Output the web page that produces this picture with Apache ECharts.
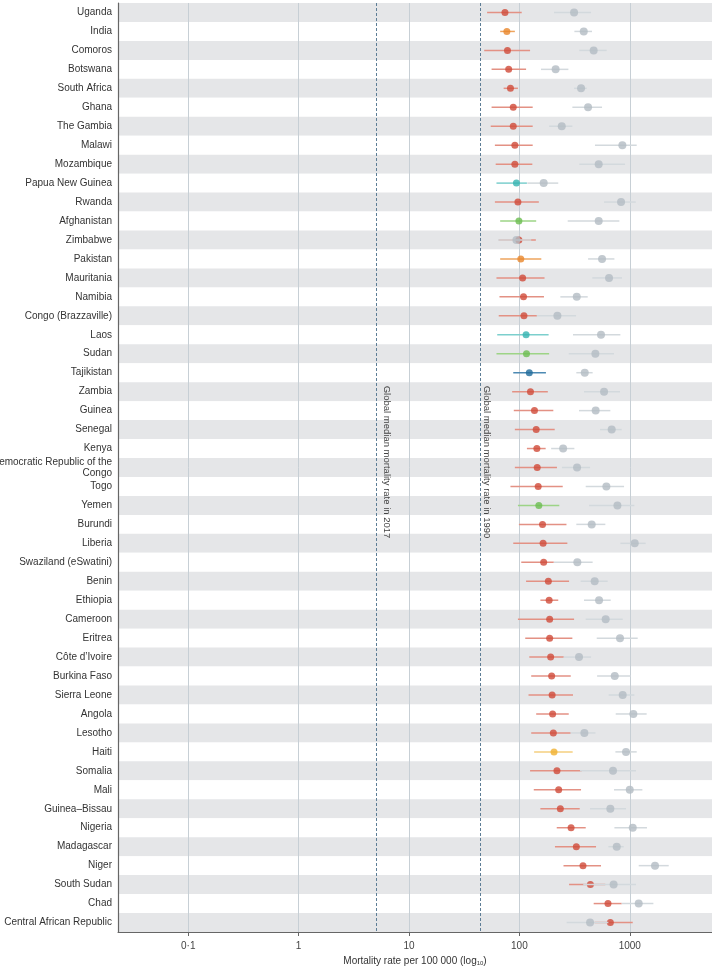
<!DOCTYPE html>
<html lang="en">
<head>
    <meta charset="UTF-8">
    <title>Mortality rate per 100 000</title>
    <script src="https://cdn.jsdelivr.net/npm/echarts@6/dist/echarts.min.js"></script>
    <style>
        html, body { margin: 0; padding: 0; background: #fff; }
        #main { width: 712px; height: 966px; }
    </style>
</head>
<body>
<div id="main"></div>
<script type="text/javascript">
    // countries, top to bottom
    var countries = ['Uganda', 'India', 'Comoros', 'Botswana', 'South Africa', 'Ghana', 'The Gambia', 'Malawi',
        'Mozambique', 'Papua New Guinea', 'Rwanda', 'Afghanistan', 'Zimbabwe', 'Pakistan', 'Mauritania', 'Namibia',
        'Congo (Brazzaville)', 'Laos', 'Sudan', 'Tajikistan', 'Zambia', 'Guinea', 'Senegal', 'Kenya',
        'Democratic Republic of the Congo', 'Togo', 'Yemen', 'Burundi', 'Liberia', 'Swaziland (eSwatini)', 'Benin',
        'Ethiopia', 'Cameroon', 'Eritrea', 'Côte d\u2019Ivoire', 'Burkina Faso', 'Sierra Leone', 'Angola', 'Lesotho',
        'Haiti', 'Somalia', 'Mali', 'Guinea\u2013Bissau', 'Nigeria', 'Madagascar', 'Niger', 'South Sudan', 'Chad',
        'Central African Republic'];

    // region of each country (colour of the 2017 mark)
    var region = ['ssa', 'sa', 'ssa', 'ssa', 'ssa', 'ssa', 'ssa', 'ssa',
        'ssa', 'sea', 'ssa', 'nme', 'ssa', 'sa', 'ssa', 'ssa',
        'ssa', 'sea', 'nme', 'cee', 'ssa', 'ssa', 'ssa', 'ssa',
        'ssa', 'ssa', 'nme', 'ssa', 'ssa', 'ssa', 'ssa',
        'ssa', 'ssa', 'ssa', 'ssa', 'ssa', 'ssa', 'ssa', 'ssa',
        'lac', 'ssa', 'ssa', 'ssa', 'ssa', 'ssa', 'ssa', 'ssa', 'ssa',
        'ssa'];

    // 2017 rate and uncertainty interval
    var rate2017 = [74, 77, 78, 80, 83, 88, 88, 91, 91, 94, 97, 99, 99, 103, 107, 109, 110, 115, 116, 123, 126, 137,
        142, 144, 145, 148, 150, 162, 164, 166, 183, 186, 188, 188, 192, 196, 198, 200, 203, 206, 219, 227, 235, 294,
        328, 377, 440, 635, 667];
    var low2017 = [51, 67, 48, 56, 72, 56, 55, 60, 61, 62, 60, 67, 65, 67, 62, 66, 65, 63, 62, 88, 86, 89, 91, 117,
        91, 83, 97, 99, 88, 104, 115, 155, 97, 113, 123, 128, 121, 142, 128, 136, 125, 135, 155, 218, 210, 251, 282,
        471, 480];
    var high2017 = [105, 91, 125, 115, 97, 132, 132, 132, 131, 117, 150, 142, 141, 158, 169, 167, 144, 184, 186, 174,
        181, 203, 209, 173, 219, 247, 230, 267, 272, 205, 282, 225, 313, 302, 254, 292, 306, 280, 292, 304, 367, 362,
        352, 399, 495, 549, 600, 845, 1064];

    // 1990 rate and uncertainty interval
    var rate1990 = [313, 383, 471, 213, 362, 419, 242, 857, 523, 166, 834, 523, 94, 561, 649, 331, 221, 549, 488, 391,
        585, 491, 686, 249, 333, 614, 773, 452, 1109, 335, 481, 527, 605, 816, 347, 731, 863, 1078, 388, 925, 705,
        1000, 667, 1064, 762, 1694, 714, 1205, 437];
    var low1990 = [206, 315, 349, 157, 313, 302, 186, 484, 349, 118, 585, 274, 64, 419, 458, 235, 144, 306, 280, 328,
        385, 347, 538, 194, 243, 399, 428, 328, 822, 205, 359, 385, 399, 502, 250, 506, 644, 746, 290, 741, 354,
        720, 437, 726, 640, 1205, 379, 845, 268];
    var high1990 = [446, 455, 618, 278, 407, 561, 302, 1156, 906, 225, 1132, 805, 128, 726, 851, 416, 326, 822, 720,
        461, 816, 667, 845, 315, 437, 888, 1101, 601, 1394, 461, 631, 672, 863, 1180, 446, 1021, 1101, 1423, 489,
        1156, 1140, 1301, 925, 1432, 881, 2254, 1140, 1637, 640];

    // global medians
    var median2017 = 5.1;
    var median1990 = 43.8;

    var xTicks = [0.1, 1, 10, 100, 1000];

    var pointColor = {
        ssa: '#d04a38', sa: '#e8862a', sea: '#35b3b0', nme: '#6cbd50', cee: '#1f6a9a', lac: '#f0b030'
    };
    var lineColor = {
        ssa: '#e39184', sa: '#eea45e', sea: '#7ccfcd', nme: '#9dd486', cee: '#4d8ab3', lac: '#f5cf7f'
    };

    var font = '"Liberation Sans", "DejaVu Sans", sans-serif';

    function barData(lo, hi) {
        return countries.map(function (c, i) {
            return [lo[i], hi[i], i];
        });
    }

    function renderBar(colorFn) {
        return function (params, api) {
            var a = api.coord([api.value(0), api.value(2)]);
            var b = api.coord([api.value(1), api.value(2)]);
            return {
                type: 'line',
                shape: {x1: a[0], y1: a[1], x2: b[0], y2: b[1]},
                style: {stroke: colorFn(params.dataIndex), lineWidth: 1.5}
            };
        };
    }

    var myChart = echarts.init(document.getElementById('main'), null, {renderer: 'canvas'});

    var option = {
        animation: false,
        textStyle: {fontFamily: font},
        grid: {left: 118, right: 0, top: 3, bottom: 34, containLabel: false, outerBoundsMode: 'none'},
        xAxis: {
            type: 'log',
            logBase: 10,
            min: 0.0231,
            max: 5560,
            name: 'Mortality rate per 100 000 (log{sub|10})',
            nameLocation: 'middle',
            nameGap: 22,
            nameTextStyle: {
                color: '#333', fontSize: 10, fontFamily: font,
                rich: {sub: {fontSize: 6, verticalAlign: 'bottom', padding: [4, 0, 0, 0], color: '#333'}}
            },
            axisLine: {show: true, lineStyle: {color: '#666', width: 1}},
            axisTick: {show: true, length: 4, lineStyle: {color: '#666'}, customValues: xTicks},
            axisLabel: {
                color: '#444', fontSize: 10, margin: 9, customValues: xTicks,
                formatter: function (v) {
                    return String(v).replace('.', '\u00b7');
                }
            },
            splitLine: {show: true, lineStyle: {color: '#c7cfd5', width: 1}}
        },
        yAxis: {
            type: 'category',
            data: countries,
            inverse: true,
            axisLine: {show: true, lineStyle: {color: '#666', width: 1.2}},
            axisTick: {show: false},
            axisLabel: {
                color: '#333', fontSize: 10, margin: 6, fontFamily: font, lineHeight: 11,
                formatter: function (v) {
                    // the long name wraps onto two lines
                    return v.replace(' of the Congo', ' of the\nCongo');
                }
            },
            splitArea: {show: true, areaStyle: {color: ['#e5e6e8', '#ffffff']}}
        },
        series: [
            {
                name: '2017 interval',
                type: 'custom',
                renderItem: renderBar(function (i) { return lineColor[region[i]]; }),
                encode: {x: [0, 1], y: 2},
                data: barData(low2017, high2017),
                z: 2
            },
            {
                name: '2017',
                type: 'scatter',
                symbolSize: 7,
                data: countries.map(function (c, i) {
                    return {value: [rate2017[i], i], itemStyle: {color: pointColor[region[i]]}};
                }),
                z: 3
            },
            {
                name: '1990 interval',
                type: 'custom',
                renderItem: renderBar(function () { return '#d3d9dd'; }),
                encode: {x: [0, 1], y: 2},
                data: barData(low1990, high1990),
                z: 4
            },
            {
                name: '1990',
                type: 'scatter',
                symbolSize: 8,
                itemStyle: {color: '#b3bcc3'},
                data: countries.map(function (c, i) {
                    return [rate1990[i], i];
                }),
                z: 5,
                markLine: {
                    silent: true,
                    symbol: 'none',
                    label: {show: false},
                    lineStyle: {color: '#5d7d96', type: [3, 2], width: 1},
                    data: [{xAxis: median2017}, {xAxis: median1990}]
                }
            }
        ]
    };
    myChart.setOption(option);

    // rotated captions beside the median lines
    var midY = 462;
    var x17 = myChart.convertToPixel({xAxisIndex: 0}, median2017);
    var x90 = myChart.convertToPixel({xAxisIndex: 0}, median1990);
    myChart.setOption({
        graphic: [
            {
                type: 'text', x: x17 + 10, y: midY, rotation: -Math.PI / 2,
                style: {
                    text: 'Global median mortality rate in 2017', fill: '#444', fontSize: 9.5,
                    fontFamily: font, align: 'center', verticalAlign: 'middle'
                }
            },
            {
                type: 'text', x: x90 + 7, y: midY, rotation: -Math.PI / 2,
                style: {
                    text: 'Global median mortality rate in 1990', fill: '#444', fontSize: 9.5,
                    fontFamily: font, align: 'center', verticalAlign: 'middle'
                }
            }
        ]
    });
</script>
</body>
</html>
